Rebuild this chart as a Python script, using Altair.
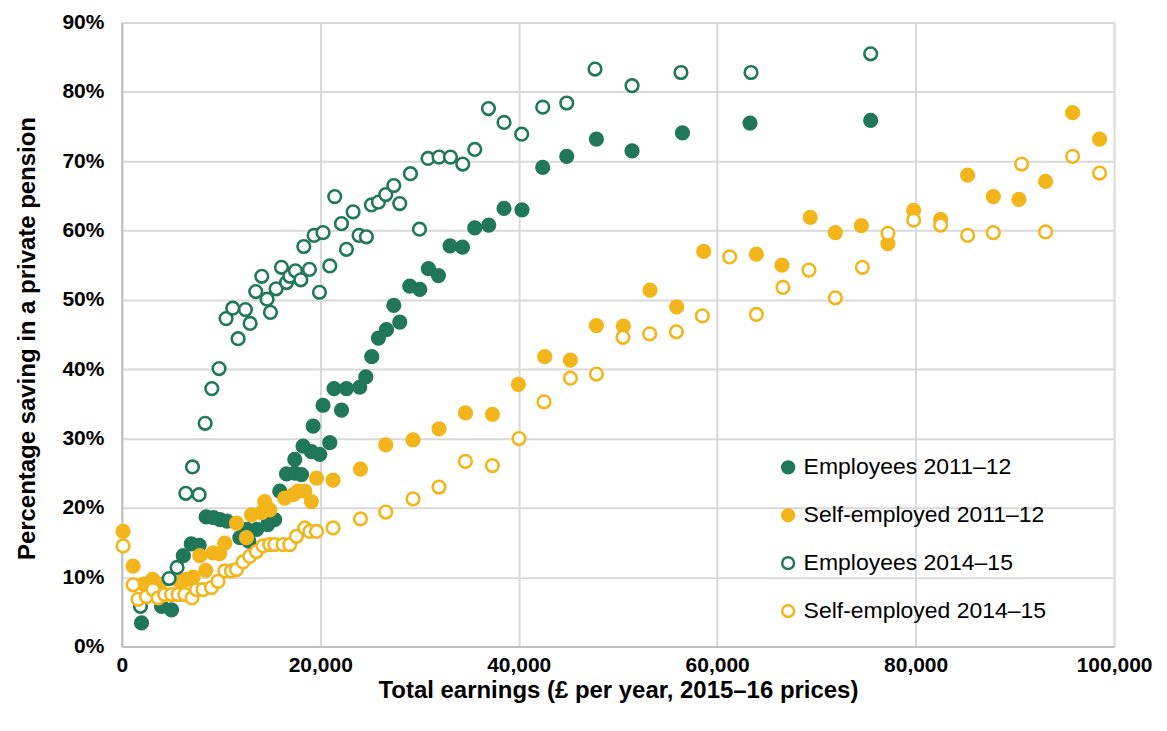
import altair as alt
import pandas as pd

SERIES = ["Employees 2011–12", "Self-employed 2011–12", "Employees 2014–15", "Self-employed 2014–15"]

emp11_x = [1985, 4000, 5010, 6200, 7000, 7800, 8500, 9250, 9900, 10600, 11900, 12600, 12800, 13600,
           14700, 15400, 15920, 16600, 17430, 18110, 17430, 18270, 19110, 19950, 19280, 20280, 20960,
           21390, 22140, 22640, 23980, 24590, 25190, 25860, 26670, 27410, 28010, 29020, 30030, 30900,
           31910, 33080, 34330, 35570, 36980, 38520, 40330, 42420, 44840, 47830, 51420, 56500, 63310, 75470]
emp11_y = [3.4, 5.8, 5.3, 13.1, 14.8, 14.6, 18.7, 18.6, 18.3, 18.1, 15.7, 16.9, 15.2, 16.9,
           17.6, 18.3, 22.4, 24.9, 25.0, 24.8, 27.0, 28.9, 28.1, 27.7, 31.8, 34.8, 29.4,
           37.2, 34.1, 37.2, 37.4, 38.9, 41.8, 44.5, 45.7, 49.2, 46.8, 52.0, 51.5, 54.5,
           53.5, 57.8, 57.6, 60.4, 60.8, 63.2, 63.0, 69.1, 70.7, 73.2, 71.5, 74.1, 75.5, 75.9]

self11_x = [130, 1140, 2200, 3100, 3800, 5840, 6520, 7190, 8460, 7860, 9200, 9870, 10380, 11560,
            12560, 13070, 14080, 14410, 14910, 16420, 17270, 17770, 18440, 19110, 19620, 21290, 24050,
            26600, 29350, 31970, 34630, 37350, 39970, 42620, 45210, 47830, 50550, 53230, 55920, 58640,
            63950, 66530, 69380, 71910, 74530, 77210, 79800, 82520, 85240, 87830, 90410, 93100, 95820, 98540]
self11_y = [16.6, 11.6, 9.0, 9.7, 9.0, 9.4, 9.7, 10.0, 11.0, 13.1, 13.5, 13.4, 14.9, 17.8,
            15.7, 19.0, 19.3, 20.9, 19.7, 21.4, 21.9, 22.4, 22.4, 20.9, 24.3, 24.0, 25.6,
            29.1, 29.8, 31.4, 33.7, 33.5, 37.8, 41.8, 41.3, 46.3, 46.2, 51.4, 49.0, 57.0,
            56.6, 55.0, 61.9, 59.7, 60.7, 58.1, 62.9, 61.6, 68.0, 64.9, 64.5, 67.1, 77.0, 73.2]

emp14_x = [1885, 4770, 5570, 6450, 7120, 7790, 8400, 9070, 9800, 10510, 11180, 11720, 12460, 12930,
           13500, 14110, 14640, 14980, 15550, 16090, 16600, 16930, 17500, 18040, 18340, 18910, 19380,
           19920, 20280, 20960, 21460, 22140, 22640, 23310, 23910, 24650, 25160, 25860, 26600, 27410,
           28010, 29090, 30000, 30860, 31970, 33120, 34360, 35570, 36950, 38520, 40300, 42420, 44840,
           47690, 51420, 56350, 63410, 75470]
emp14_y = [5.8, 9.8, 11.4, 22.1, 25.9, 21.9, 32.2, 37.2, 40.1, 47.3, 48.8, 44.4, 48.6, 46.6,
           51.2, 53.4, 50.1, 48.2, 51.6, 54.7, 52.5, 53.4, 54.2, 52.9, 57.7, 54.4, 59.3,
           51.1, 59.7, 54.9, 64.9, 61.0, 57.3, 62.7, 59.3, 59.1, 63.7, 64.1, 65.2, 66.5,
           63.9, 68.2, 60.2, 70.4, 70.6, 70.6, 69.6, 71.7, 77.6, 75.6, 73.9, 77.8, 78.4,
           83.3, 80.9, 82.8, 82.8, 85.5]

self14_x = [130, 1140, 1640, 2490, 3150, 3660, 4330, 5010, 5670, 6350, 7080, 7530, 8190, 9040, 9700,
            10380, 11050, 11560, 12220, 12900, 13570, 14240, 14910, 15420, 16250, 16930, 17600, 18440,
            18940, 19620, 21290, 24050, 26600, 29350, 31970, 34630, 37350, 40030, 42550, 45210, 47830,
            50510, 53200, 55890, 58510, 61260, 63950, 66630, 69250, 71910, 74630, 77210, 79800, 82520,
            85240, 87830, 90680, 93100, 95820, 98540]
self14_y = [14.5, 8.9, 6.8, 7.2, 8.2, 7.0, 7.5, 7.5, 7.5, 7.5, 7.0, 8.2, 8.2, 8.5, 9.4,
            10.9, 10.9, 11.1, 12.2, 13.0, 13.7, 14.5, 14.7, 14.7, 14.7, 14.7, 15.9, 17.1,
            16.6, 16.6, 17.1, 18.4, 19.4, 21.3, 23.0, 26.7, 26.1, 30.0, 35.3, 38.7, 39.3,
            44.6, 45.1, 45.4, 47.7, 56.2, 47.9, 51.8, 54.3, 50.3, 54.7, 59.6, 61.5, 60.8,
            59.3, 59.7, 69.6, 59.8, 70.7, 68.3]

GREEN = "#21775A"
YELLOW = "#F2B61C"

rows = []
for i, (xs, ys) in enumerate([(emp11_x, emp11_y), (self11_x, self11_y),
                              (emp14_x, emp14_y), (self14_x, self14_y)]):
    for x, y in zip(xs, ys):
        rows.append({"earn": x, "pct": y, "series": SERIES[i], "order": i})
df = pd.DataFrame(rows)

FONT = "Liberation Sans"

legend_cfg = dict(title=None, orient="none", legendX=656, legendY=434,
                  labelFontSize=23, labelFont=FONT, labelColor="black", labelLimit=0,
                  symbolType="circle", symbolSize=140, symbolStrokeWidth=2.5,
                  rowPadding=24, labelOffset=4, padding=0)

chart = alt.Chart(df).mark_point(filled=True, size=160, strokeWidth=2.6, opacity=1).encode(
    x=alt.X("earn:Q",
            scale=alt.Scale(domain=[0, 100000], nice=False),
            axis=alt.Axis(values=[0, 20000, 40000, 60000, 80000, 100000], format=",d",
                          title="Total earnings (£ per year, 2015–16 prices)",
                          titleY=44, titleBaseline="middle", labelPadding=8,
                          labelFontSize=21, labelFontWeight="bold", titleFontSize=24,
                          titleFontWeight="bold", labelFont=FONT, titleFont=FONT,
                          labelColor="black", titleColor="black",
                          ticks=False, tickSize=0, domainColor="#BFBFBF", domainWidth=2,
                          gridColor="#D9D9D9", gridWidth=2, labelFlush=False)),
    y=alt.Y("pct:Q",
            scale=alt.Scale(domain=[0, 90], nice=False),
            axis=alt.Axis(values=list(range(0, 100, 10)), labelExpr="datum.value + '%'",
                          title="Percentage saving in a private pension",
                          titleX=-94, titleY=316, titleBaseline="middle", titleAngle=-90,
                          labelPadding=18, labelFontSize=21, labelFontWeight="bold",
                          titleFontSize=24, titleFontWeight="bold", labelFont=FONT, titleFont=FONT,
                          labelColor="black", titleColor="black",
                          ticks=False, tickSize=0, domainColor="#BFBFBF", domainWidth=2,
                          gridColor="#D9D9D9", gridWidth=2)),
    fill=alt.Fill("series:N",
                  scale=alt.Scale(domain=SERIES, range=[GREEN, YELLOW, "white", "white"]),
                  sort=SERIES, legend=alt.Legend(**legend_cfg)),
    stroke=alt.Stroke("series:N",
                      scale=alt.Scale(domain=SERIES, range=[GREEN, YELLOW, GREEN, YELLOW]),
                      sort=SERIES, legend=alt.Legend(**legend_cfg)),
    order=alt.Order("order:Q"),
).properties(
    width=994, height=625,
    autosize=alt.AutoSizeParams(type="none"),
    padding={"left": 114, "top": 14, "right": 45, "bottom": 70},
).configure_view(stroke=None).configure(background="white")

chart.save("out.html", embed_options={"renderer": "svg", "actions": False})
